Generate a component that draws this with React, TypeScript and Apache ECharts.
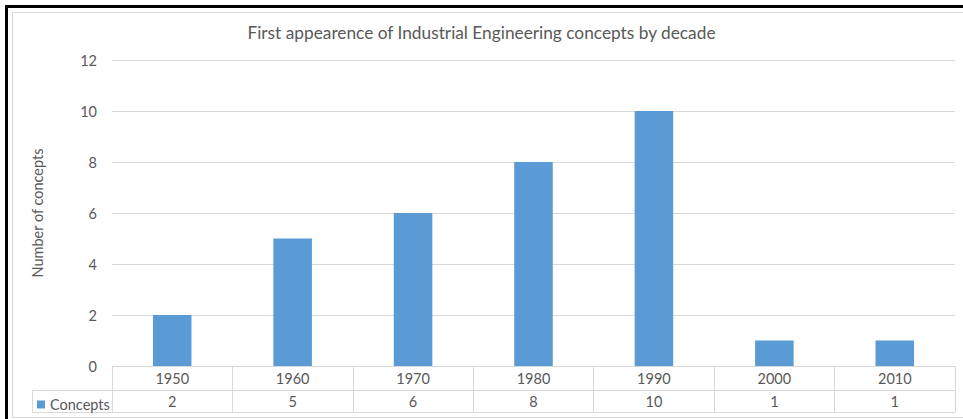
import React, { useEffect, useRef } from "react";
import * as echarts from "echarts";

const title = "First appearence of Industrial Engineering concepts by decade";
const decades = ["1950", "1960", "1970", "1980", "1990", "2000", "2010"];
const concepts = [2, 5, 6, 8, 10, 1, 1];
const seriesName = "Concepts";
const yAxisName = "Number of concepts";

const FONT = "Lato";
const TXT = "#595959";
const GRID = "#d9d9d9";
const BAR = "#5b9bd5";
const FS = 14.5;

export default function App() {
  const ref = useRef<HTMLDivElement>(null);
  useEffect(() => {
    if (!ref.current) return;
    const chart = echarts.init(ref.current, undefined, { renderer: "svg" });
    chart.setOption({
      animation: false,
      textStyle: { fontFamily: FONT },
      title: {
        text: title,
        left: "center",
        top: 19,
        textStyle: { fontFamily: FONT, fontSize: 17.3, fontWeight: "normal", color: TXT },
      },
      legend: {
        left: 37,
        top: 397,
        itemWidth: 8,
        itemHeight: 8,
        itemGap: 4,
        padding: 0,
        icon: "rect",
        textStyle: { fontFamily: FONT, fontSize: FS, color: TXT, padding: [0, 0, 0, 0] },
        data: [seriesName],
      },
      grid: { left: 112, right: 8, top: 60, bottom: 53, containLabel: false },
      xAxis: [
        {
          type: "category",
          data: decades,
          position: "bottom",
          axisLine: { show: true, lineStyle: { color: GRID, width: 1 } },
          axisTick: { show: true, interval: 0, length: 46, lineStyle: { color: GRID } },
          axisLabel: { margin: 5, fontFamily: FONT, fontSize: FS, color: TXT, interval: 0 },
        },
        {
          type: "category",
          data: concepts.map(String),
          position: "bottom",
          offset: 24,
          axisLine: { show: true, lineStyle: { color: GRID, width: 1 } },
          axisTick: { show: false },
          axisLabel: { margin: 4, fontFamily: FONT, fontSize: FS, color: TXT, interval: 0 },
        },
        {
          type: "category",
          data: decades,
          position: "bottom",
          offset: 46,
          axisLine: { show: true, lineStyle: { color: GRID, width: 1 } },
          axisTick: { show: false },
          axisLabel: { show: false },
        },
      ],
      yAxis: {
        type: "value",
        min: 0,
        max: 12,
        interval: 2,
        name: yAxisName,
        nameLocation: "middle",
        nameGap: 67,
        nameTextStyle: { fontFamily: FONT, fontSize: FS, color: TXT },
        axisLine: { show: false },
        axisTick: { show: false },
        axisLabel: { margin: 15, fontFamily: FONT, fontSize: FS, color: TXT },
        splitLine: { lineStyle: { color: GRID, width: 1 } },
      },
      graphic: [
        {
          type: "polyline",
          shape: { points: [[112, 390.5], [32.5, 390.5], [32.5, 412.5], [112, 412.5]] },
          style: { stroke: GRID, fill: "none", lineWidth: 1 },
          silent: true,
        },
      ],
      series: [
        {
          name: seriesName,
          type: "bar",
          xAxisIndex: 0,
          data: concepts,
          barCategoryGap: "68%",
          itemStyle: { color: BAR },
        },
      ],
    });
    return () => chart.dispose();
  }, []);

  return (
    <div style={{ position: "fixed", left: 0, top: 0, width: 963, height: 419, background: "#fff", overflow: "hidden" }}>
      <div style={{ position: "absolute", left: 5, top: 5, width: 3, height: 419, background: "#000" }} />
      <div style={{ position: "absolute", left: 5, top: 5, width: 958, height: 3, background: "#000" }} />
      <div style={{ position: "absolute", left: 12, top: 12, width: 960, height: 404, border: `1px solid ${GRID}` }} />
      <div ref={ref} style={{ position: "absolute", left: 0, top: 0, width: 963, height: 419 }} />
    </div>
  );
}
